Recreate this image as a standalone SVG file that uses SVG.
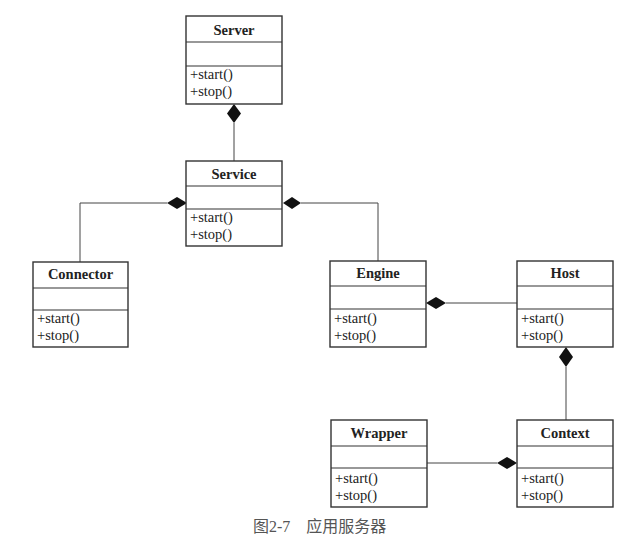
<svg xmlns="http://www.w3.org/2000/svg" width="635" height="549" viewBox="0 0 635 549">
<defs>
<style>
.box{fill:#fff;stroke:#333;stroke-width:1.4}
.div{stroke:#333;stroke-width:1.2}
.t{font-family:"Liberation Serif","Times New Roman",serif;font-size:14.5px;font-weight:bold;fill:#222;text-anchor:middle}
.m{font-family:"Liberation Serif","Times New Roman",serif;font-size:14.5px;fill:#222}
.c{fill:none;stroke:#444;stroke-width:1}
.d{fill:#111}
.cap{font-family:"Liberation Serif","Noto Sans CJK SC",serif;font-size:16px;fill:#555}
</style>
</defs>
<rect width="635" height="549" fill="#fff"/>
<g id="connectors">
<path class="c" d="M234 123V161"/>
<polygon class="d" points="234,104 241,113.5 234,123 227,113.5"/>
<path class="c" d="M167 203H80V262"/>
<polygon class="d" points="187,203 177,209 167,203 177,197"/>
<path class="c" d="M301 203H378V261"/>
<polygon class="d" points="283,203 292,197 301,203 292,209"/>
<path class="c" d="M446 303H517"/>
<polygon class="d" points="426,303 436,297 446,303 436,309"/>
<path class="c" d="M566 367V420"/>
<polygon class="d" points="566,347 573,357 566,367 559,357"/>
<path class="c" d="M427 463H497"/>
<polygon class="d" points="517,463 507,469 497,463 507,457"/>
</g>
<g id="server">
<rect class="box" x="186" y="16" width="96" height="88"/>
<path class="div" d="M186 42H282M186 66H282"/>
<text class="t" x="234" y="35">Server</text>
<text class="m" x="190" y="79">+start()</text>
<text class="m" x="190" y="96">+stop()</text>
</g>
<g id="service">
<rect class="box" x="186" y="161" width="96" height="85"/>
<path class="div" d="M186 186H282M186 209H282"/>
<text class="t" x="234" y="179">Service</text>
<text class="m" x="190" y="222">+start()</text>
<text class="m" x="190" y="239">+stop()</text>
</g>
<g id="connector">
<rect class="box" x="33" y="262" width="95" height="85"/>
<path class="div" d="M33 288H128M33 310H128"/>
<text class="t" x="80.500" y="279">Connector</text>
<text class="m" x="37" y="323">+start()</text>
<text class="m" x="37" y="340">+stop()</text>
</g>
<g id="engine">
<rect class="box" x="330" y="261" width="96" height="86"/>
<path class="div" d="M330 286H426M330 309H426"/>
<text class="t" x="378" y="278">Engine</text>
<text class="m" x="334" y="323">+start()</text>
<text class="m" x="334" y="340">+stop()</text>
</g>
<g id="host">
<rect class="box" x="517" y="261" width="96" height="86"/>
<path class="div" d="M517 286H613M517 309H613"/>
<text class="t" x="565" y="278">Host</text>
<text class="m" x="521" y="323">+start()</text>
<text class="m" x="521" y="340">+stop()</text>
</g>
<g id="wrapper">
<rect class="box" x="331" y="420" width="96" height="87"/>
<path class="div" d="M331 446H427M331 468H427"/>
<text class="t" x="379" y="438">Wrapper</text>
<text class="m" x="335" y="483">+start()</text>
<text class="m" x="335" y="500">+stop()</text>
</g>
<g id="context">
<rect class="box" x="517" y="420" width="96" height="87"/>
<path class="div" d="M517 446H613M517 468H613"/>
<text class="t" x="565" y="438">Context</text>
<text class="m" x="521" y="483">+start()</text>
<text class="m" x="521" y="500">+stop()</text>
</g>
<text class="cap" x="253" y="532">图2-7　应用服务器</text>
</svg>
